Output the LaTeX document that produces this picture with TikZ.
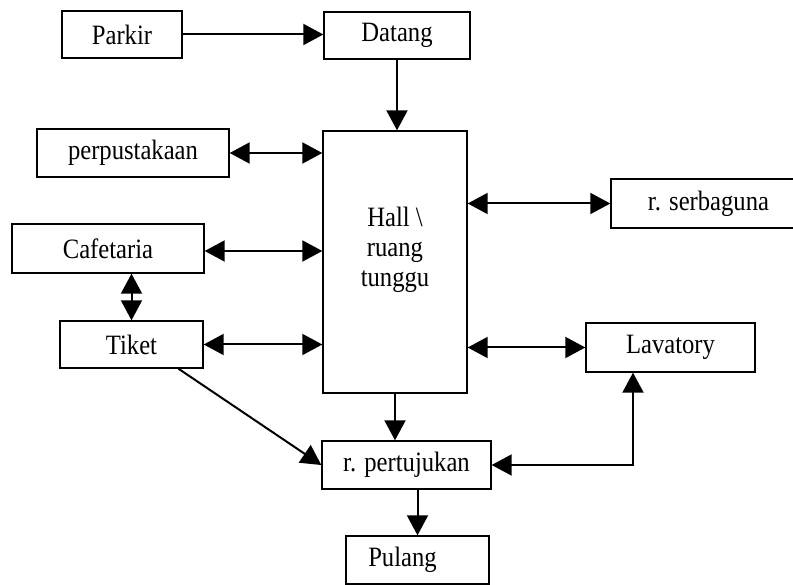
\documentclass[tikz,border=0pt]{standalone}
\usepackage{fontspec}
\setmainfont{Liberation Serif}[FakeStretch=0.88]
\usetikzlibrary{arrows.meta,calc}
\begin{document}
\begin{tikzpicture}[x=1pt,y=-1pt,
  room/.style={draw=black, line width=1.4pt, rectangle, inner sep=0pt,
    font=\fontsize{28}{30}\selectfont},
  tip/.style={Triangle[length=20pt,width=21pt]},
  link/.style={line width=2pt, -{Triangle[length=20pt,width=21pt]}},
  both/.style={line width=2pt, {Triangle[length=20pt,width=21pt]}-{Triangle[length=20pt,width=21pt]}}]
\useasboundingbox (0,0) rectangle (793,585);

% rooms
\node[room, minimum width=120pt, minimum height=47pt] (parkir) at (122,34.5) {Parkir};
\node[room, minimum width=146pt, minimum height=47pt] (datang) at (397,35.5) {Datang};
\node[room, minimum width=192pt, minimum height=48pt] (perpus) at (133,153) {perpustakaan};
\node[room, minimum width=144pt, minimum height=262pt] (hall) at (395,262) {};
\node[font=\fontsize{28}{30}\selectfont, align=center, inner sep=0pt] (halltext) at (395,250) {Hall \textbackslash\\ruang\\tunggu};
\node[room, minimum width=192pt, minimum height=49pt] (cafe) at (108,248.5) {Cafetaria};
\node[room, minimum width=143pt, minimum height=47pt] (tiket) at (131.5,344.5) {Tiket};
\node[room, minimum width=195pt, minimum height=49pt] (serba) at (708.5,203.5) {r. serbaguna};
\node[room, minimum width=169pt, minimum height=49pt] (lava) at (670.5,347.5) {Lavatory};
\node[room, minimum width=169pt, minimum height=48pt] (pert) at (406.5,465) {r. pertujukan};
\node[room, minimum width=143pt, minimum height=48pt] (pulang) at (417.5,560) {\hspace*{-30pt}Pulang};

% circulation
\draw[link] (parkir.east) -- (parkir.east -| datang.west);
\draw[link] (datang.south) -- (datang.south |- hall.north);
\draw[both] (perpus.east) -- (perpus.east -| hall.west);
\draw[both] ($(cafe.east)+(0,2.5)$) -- ($(cafe.east -| hall.west)+(0,2.5)$);
\draw[both] (tiket.east) -- (tiket.east -| hall.west);
\draw[both] (cafe.south -| tiket.north) -- (tiket.north);
\draw[both] (hall.east |- serba.west) -- (serba.west);
\draw[both] (hall.east |- lava.west) -- (lava.west);
\draw[link] (hall.south) -- (hall.south |- pert.north);
\draw[link] ($(tiket.south)!0.65!(tiket.south east)$) -- (pert.west);
\coordinate (bend) at ($(lava.south)+(-37.5,0)$);
\draw[both] (pert.east) -- (pert.east -| bend) -- (bend);
\draw[link] (pert.south -| pulang.north) -- (pulang.north);
\end{tikzpicture}
\end{document}
